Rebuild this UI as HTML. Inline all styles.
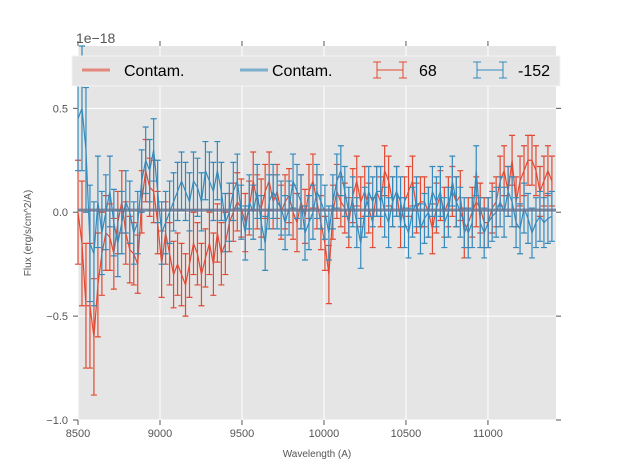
<!DOCTYPE html>
<html><head><meta charset="utf-8"><style>
body{margin:0;background:#fff}
svg{display:block;font-family:"Liberation Sans",sans-serif}
</style></head><body>
<svg id="c" width="617" height="467">
<rect x="78" y="46" width="478" height="374" fill="#e5e5e5"/>
<g id="grid"></g><g id="ticks"></g><g id="series"></g>
<text x="76" y="43" font-size="14" fill="#555">1e−18</text>
<text x="317" y="457" font-size="10" fill="#555" text-anchor="middle">Wavelength (A)</text>
<text transform="translate(31,233) rotate(-90)" font-size="10" fill="#555" text-anchor="middle">Flux (erg/s/cm^2/A)</text>
<g>
<rect x="72" y="56" width="488" height="30" fill="#e5e5e5" stroke="#f4f4f4" stroke-width="1"/>
<g><line x1="82" y1="70" x2="110" y2="70" stroke="#e24a33" stroke-opacity="0.6" stroke-width="3"/><text x="124" y="76" font-size="16">Contam.</text></g>
<g><line x1="240" y1="70" x2="268" y2="70" stroke="#348abd" stroke-opacity="0.6" stroke-width="3"/><text x="272" y="76" font-size="16">Contam.</text></g>
<g stroke="#e24a33"><line x1="377" y1="70" x2="403" y2="70"/><line x1="377" y1="62" x2="377" y2="78"/><line x1="403" y1="62" x2="403" y2="78"/><line x1="373" y1="62" x2="381" y2="62"/><line x1="373" y1="78" x2="381" y2="78"/><line x1="399" y1="62" x2="407" y2="62"/><line x1="399" y1="78" x2="407" y2="78"/><text x="419" y="76" font-size="16" stroke="none" fill="#000">68</text></g>
<g stroke="#348abd"><line x1="477" y1="70" x2="503" y2="70"/><line x1="477" y1="62" x2="477" y2="78"/><line x1="503" y1="62" x2="503" y2="78"/><line x1="473" y1="62" x2="481" y2="62"/><line x1="473" y1="78" x2="481" y2="78"/><line x1="499" y1="62" x2="507" y2="62"/><line x1="499" y1="78" x2="507" y2="78"/><text x="518" y="76" font-size="16" stroke="none" fill="#000">-152</text></g>
</g>
</svg>
<script>
const xTicks=[8500,9000,9500,10000,10500,11000];
const yTicks=[-1.0,-0.5,0.0,0.5];
const yTickLabels=["−1.0","−0.5","0.0","0.5"];
const xStart=8500, xEnd=11390;
const contamLevel=0.01;
const red=[0.0,-0.15,-0.45,-0.45,-0.6,-0.35,-0.2,-0.1,-0.12,-0.2,-0.05,0.05,-0.1,-0.18,-0.2,-0.25,0.05,0.2,0.12,0.1,-0.05,-0.25,-0.1,-0.2,-0.3,-0.25,-0.3,-0.35,-0.25,-0.15,-0.2,-0.3,-0.22,-0.15,-0.25,-0.1,-0.2,-0.15,-0.05,0.0,0.05,0.02,-0.05,0.02,0.15,0.05,0.02,0.1,0.15,0.05,0.1,0.0,0.05,0.08,0.0,-0.05,0.05,-0.02,0.1,0.15,0.05,-0.05,-0.15,-0.3,0.0,0.1,0.05,0.02,-0.05,0.08,0.15,0.05,0.1,0.02,-0.05,0.1,0.05,0.2,0.15,0.05,0.1,-0.05,0.05,0.1,0.15,0.02,0.05,0.05,0.0,-0.08,0.02,0.08,0.0,0.05,0.1,0.05,0.08,-0.1,-0.05,0.0,0.05,0.02,-0.05,-0.05,0.02,0.05,0.15,0.2,0.1,0.25,0.05,0.15,0.2,0.25,0.25,0.2,0.1,0.15,0.2,0.15];
const blue=[0.45,0.5,0.3,-0.15,-0.2,0.05,-0.1,0.0,0.1,-0.05,-0.15,-0.05,0.05,0.0,-0.1,-0.05,0.15,0.25,0.2,0.3,0.1,-0.1,-0.05,0.0,0.05,0.1,0.15,0.1,0.05,0.15,0.12,0.05,0.2,0.15,0.1,0.2,0.1,-0.05,0.0,0.1,0.15,0.0,-0.1,0.05,0.0,0.1,-0.05,-0.15,0.05,0.1,0.05,0.02,-0.05,0.02,0.15,0.1,0.05,-0.1,-0.05,0.0,0.1,0.05,0.0,-0.1,0.05,0.15,0.2,0.1,0.0,0.05,-0.05,-0.15,0.0,0.1,0.05,0.1,0.1,0.0,-0.05,0.05,0.1,0.05,-0.05,-0.1,0.0,0.05,-0.08,-0.03,0.0,0.1,0.05,0.1,-0.05,0.0,0.15,0.05,0.0,-0.05,-0.1,-0.05,0.2,-0.05,-0.1,-0.05,-0.02,0.0,0.05,0.0,0.1,0.05,-0.05,-0.08,0.02,-0.03,-0.1,-0.05,-0.02,-0.05,-0.03,-0.02];
const errRed=[0.25,0.3,0.3,0.3,0.28,0.25,0.2,0.18,0.16,0.17,0.15,0.15,0.15,0.16,0.15,0.14,0.15,0.15,0.14,0.15,0.15,0.16,0.15,0.15,0.16,0.15,0.15,0.15,0.16,0.15,0.15,0.15,0.14,0.15,0.15,0.14,0.15,0.15,0.14,0.14,0.14,0.14,0.14,0.13,0.14,0.13,0.14,0.13,0.14,0.13,0.13,0.13,0.13,0.13,0.13,0.14,0.13,0.13,0.13,0.13,0.13,0.13,0.13,0.14,0.13,0.13,0.12,0.12,0.12,0.13,0.12,0.12,0.12,0.12,0.12,0.12,0.12,0.12,0.12,0.12,0.12,0.12,0.12,0.12,0.12,0.12,0.12,0.12,0.12,0.12,0.12,0.12,0.12,0.12,0.12,0.12,0.12,0.12,0.12,0.12,0.12,0.12,0.12,0.12,0.12,0.12,0.12,0.12,0.12,0.12,0.12,0.12,0.12,0.12,0.12,0.12,0.12,0.12,0.12,0.12];
const errBlue=[0.25,0.3,0.3,0.28,0.25,0.22,0.2,0.18,0.17,0.16,0.16,0.15,0.15,0.15,0.15,0.15,0.15,0.16,0.15,0.15,0.15,0.15,0.15,0.15,0.14,0.14,0.14,0.14,0.14,0.14,0.14,0.14,0.14,0.14,0.14,0.14,0.14,0.14,0.14,0.14,0.13,0.13,0.13,0.13,0.13,0.13,0.13,0.13,0.13,0.13,0.13,0.13,0.13,0.13,0.13,0.13,0.13,0.13,0.13,0.13,0.13,0.13,0.13,0.13,0.13,0.13,0.12,0.12,0.12,0.12,0.12,0.12,0.12,0.12,0.12,0.12,0.12,0.12,0.12,0.12,0.12,0.12,0.12,0.12,0.12,0.12,0.12,0.12,0.12,0.12,0.12,0.12,0.12,0.12,0.12,0.12,0.12,0.12,0.12,0.12,0.12,0.12,0.12,0.12,0.12,0.12,0.12,0.12,0.12,0.12,0.12,0.12,0.12,0.12,0.12,0.12,0.12,0.12,0.12,0.12];
const NS='http://www.w3.org/2000/svg';
const X0=78,X1=556,Y0=420,Y1=46,xMin=8500,xMax=11415,yMin=-1.0,yMax=0.8;
const sx=v=>X0+(v-xMin)/(xMax-xMin)*(X1-X0);
const sy=v=>Y0-(v-yMin)/(yMax-yMin)*(Y0-Y1);
function mk(tag,attrs,parent){const e=document.createElementNS(NS,tag);for(const k in attrs)e.setAttribute(k,attrs[k]);parent.appendChild(e);return e;}
const grid=document.getElementById('grid'),ticks=document.getElementById('ticks'),series=document.getElementById('series');
xTicks.forEach(t=>{const x=sx(t);
 const g=mk('line',{x1:x,x2:x,y1:Y1,y2:Y0,stroke:'#fff','stroke-width':1},grid);
 
 
 mk('line',{x1:x,x2:x,y1:Y0,y2:Y0+5,stroke:'#555'},ticks);
 mk('line',{x1:x,x2:x,y1:Y1,y2:Y1-5,stroke:'#555'},ticks);
 const tx=mk('text',{x:x,y:Y0+17,'font-size':11,fill:'#555','text-anchor':'middle'},ticks);tx.textContent=t;
 
 });
yTicks.forEach((t,i)=>{const y=sy(t);
 const g=mk('line',{x1:X0,x2:X1,y1:y,y2:y,stroke:'#fff','stroke-width':1},grid);
 
 
 mk('line',{x1:X0-5,x2:X0,y1:y,y2:y,stroke:'#555'},ticks);
 mk('line',{x1:X1,x2:X1+5,y1:y,y2:y,stroke:'#555'},ticks);
 const tx=mk('text',{x:X0-10,y:y+4,'font-size':11,fill:'#555','text-anchor':'end'},ticks);tx.textContent=yTickLabels[i];
 
 });
function drawSeries(vals,errs,color,name){
 const n=vals.length,g=mk('g',{stroke:color,fill:'none','stroke-width':1.2},series);
 
 
 const xs=vals.map((v,i)=>xStart+i*(xEnd-xStart)/(n-1));
 vals.forEach((v,i)=>{const x=sx(xs[i]),a=sy(v+errs[i]),b=sy(v-errs[i]);
  mk('path',{d:`M${x},${a}V${b}M${x-3},${a}h6M${x-3},${b}h6`},g);});
 const p=mk('polyline',{points:vals.map((v,i)=>sx(xs[i])+','+sy(v)).join(' ')},g);
 
 
}
drawSeries(red,errRed,'#e24a33','series-68');
drawSeries(blue,errBlue,'#348abd','series-minus152');
const c1=mk('line',{x1:X0,x2:X1,y1:sy(contamLevel),y2:sy(contamLevel),stroke:'#e24a33','stroke-opacity':0.6,'stroke-width':3},series);


const c2=mk('line',{x1:X0,x2:X1,y1:sy(contamLevel),y2:sy(contamLevel),stroke:'#348abd','stroke-opacity':0.6,'stroke-width':3},series);


</script>
</body></html>
